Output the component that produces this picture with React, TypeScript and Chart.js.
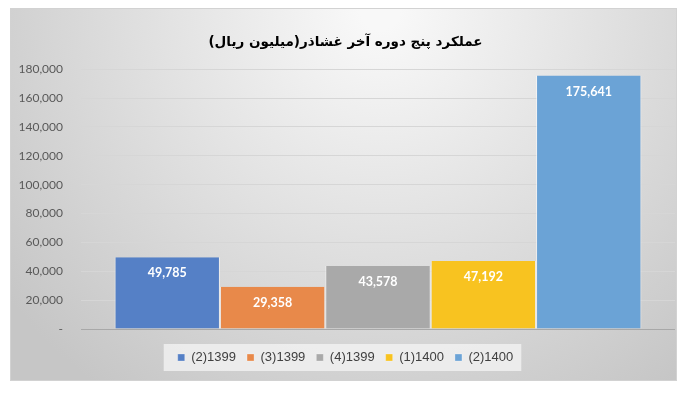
import React, { useEffect, useRef } from "react";
import { Chart, registerables } from "chart.js";

Chart.register(...registerables);

// chart data
const titleText = "عملکرد پنج دوره آخر غشاذر(میلیون ریال)";
const seriesLabels = ["(2)1399", "(3)1399", "(4)1399", "(1)1400", "(2)1400"];
const seriesValues = [49785, 29358, 43578, 47192, 175641];
const seriesColors = ["#5580C6", "#E8894A", "#A9A9A9", "#F8C320", "#6BA3D6"];
const yMax = 180000;
const yStep = 20000;

const fmt = (v: number) => (v === 0 ? "-" : v.toLocaleString("en-US"));

// gradient frame behind everything + light box behind the legend
const framePlugin = {
  id: "frame",
  beforeDraw(chart: any) {
    const { ctx, width, height } = chart;
    ctx.save();
    ctx.fillStyle = "#ffffff";
    ctx.fillRect(0, 0, width, height);
    const g = ctx.createRadialGradient(380, 10, 20, 380, 10, 470);
    g.addColorStop(0, "#f8f8f8");
    g.addColorStop(1, "#c6c6c6");
    ctx.fillStyle = g;
    ctx.fillRect(10.5, 8.5, 666, 372);
    ctx.strokeStyle = "#d2d2d2";
    ctx.lineWidth = 1;
    ctx.strokeRect(10.5, 8.5, 666, 372);

    const hb = chart.legend?.legendHitBoxes;
    if (hb && hb.length) {
      const left = Math.min(...hb.map((b: any) => b.left)) - 14;
      const right = Math.max(...hb.map((b: any) => b.left + b.width)) + 8;
      const top = hb[0].top - 7;
      ctx.fillStyle = "rgba(242,242,242,0.8)";
      ctx.fillRect(left, top, right - left, 27);
    }
    ctx.restore();
  },
};

// white value labels inside the top of each bar
const valueLabelPlugin = {
  id: "valueLabels",
  afterDatasetsDraw(chart: any) {
    const { ctx } = chart;
    ctx.save();
    ctx.font = "bold 12.5px Lato, 'Open Sans', sans-serif";
    ctx.fillStyle = "#ffffff";
    ctx.textAlign = "center";
    ctx.textBaseline = "middle";
    chart.data.datasets.forEach((ds: any, i: number) => {
      const bar = chart.getDatasetMeta(i).data[0];
      if (!bar) return;
      ctx.fillText(fmt(Number(ds.data[0])), bar.x, bar.y + 16);
    });
    ctx.restore();
  },
};

export default function App() {
  const canvasRef = useRef<HTMLCanvasElement | null>(null);
  const chartRef = useRef<Chart | null>(null);

  useEffect(() => {
    if (!canvasRef.current) return;
    const ctx = canvasRef.current.getContext("2d");
    if (!ctx) return;

    if (chartRef.current) {
      chartRef.current.destroy();
    }

    chartRef.current = new Chart(ctx, {
      type: "bar",
      data: {
        labels: [""],
        datasets: seriesLabels.map((label, i) => ({
          label,
          data: [seriesValues[i]],
          backgroundColor: seriesColors[i],
          borderColor: "rgba(255,255,255,0.55)",
          borderWidth: { left: 1, right: 1, top: 0, bottom: 0 },
          barPercentage: 1,
          categoryPercentage: 0.887,
        })),
      },
      options: {
        responsive: false,
        animation: false,
        layout: { padding: { top: 12, right: 25, bottom: 26, left: 16 } },
        plugins: {
          title: {
            display: true,
            text: titleText,
            color: "#000000",
            font: { family: "'DejaVu Sans', sans-serif", size: 13.5, weight: "bold" },
            padding: { top: 22, bottom: 19 },
          },
          legend: {
            position: "bottom",
            labels: {
              boxWidth: 7,
              boxHeight: 7,
              padding: 11,
              color: "#404040",
              font: { family: "'Liberation Sans', Arial, sans-serif", size: 13 },
            },
          },
          tooltip: { enabled: false },
        },
        scales: {
          x: {
            display: true,
            grid: { display: false },
            border: { display: false },
            ticks: { display: false },
            afterFit: (scale: any) => {
              scale.height = 11;
            },
          },
          y: {
            min: 0,
            max: yMax,
            border: { display: false },
            grid: {
              drawTicks: false,
              color: (c: any) => (c.tick && c.tick.value === 0 ? "#a8a8a8" : "#d6d6d6"),
            },
            ticks: {
              stepSize: yStep,
              padding: 18,
              color: "#595959",
              font: { family: "Lato, 'Liberation Sans', sans-serif", size: 12 },
              callback: (v: any) => fmt(Number(v)),
            },
            afterFit: (scale: any) => {
              scale.width = 65;
            },
          },
        },
      },
      plugins: [framePlugin, valueLabelPlugin],
    });

    return () => {
      if (chartRef.current) {
        chartRef.current.destroy();
        chartRef.current = null;
      }
    };
  }, []);

  return (
    <div style={{ position: "fixed", left: 0, top: 0, width: 700, height: 400, background: "#fff" }}>
      <canvas ref={canvasRef} width={700} height={400} style={{ display: "block" }} />
    </div>
  );
}
